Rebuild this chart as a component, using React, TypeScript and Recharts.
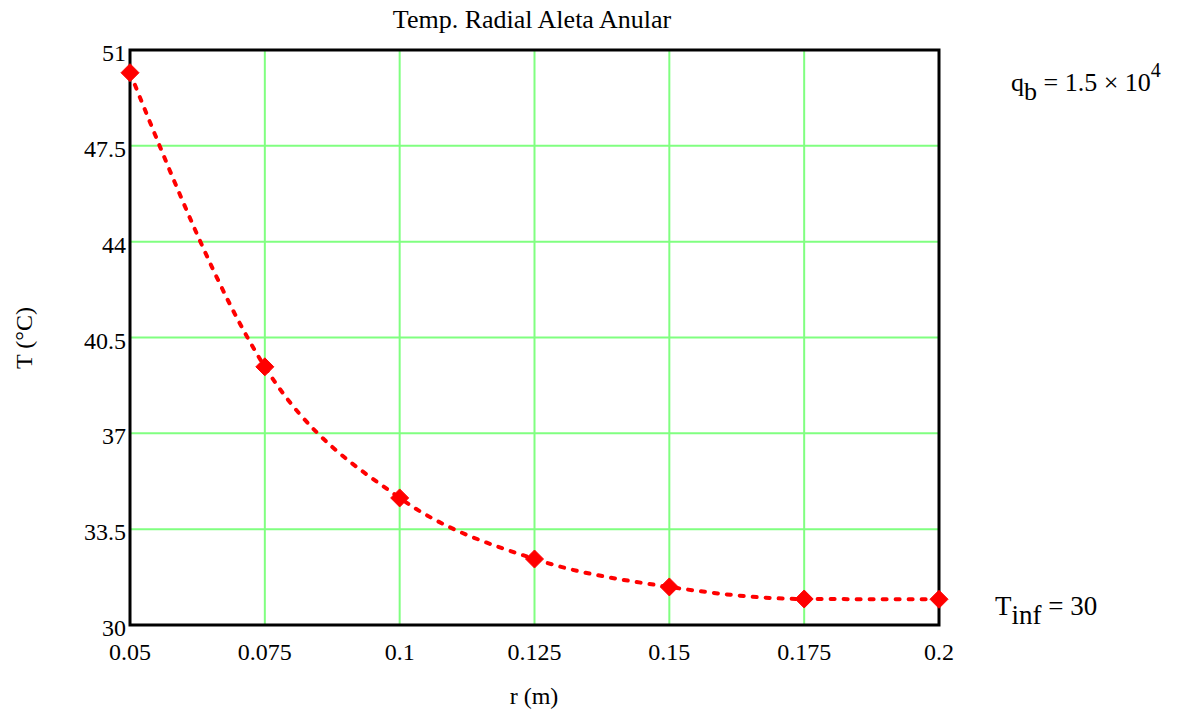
import React from "react";
import { LineChart, Line, XAxis, YAxis, CartesianGrid, ReferenceArea } from "recharts";

const radii = [0.05, 0.075, 0.1, 0.125, 0.15, 0.175, 0.2];
const temps = [50.17, 39.43, 34.64, 32.41, 31.39, 30.95, 30.94];
const xTicks = [0.05, 0.075, 0.1, 0.125, 0.15, 0.175, 0.2];
const yTicks = [30, 33.5, 37, 40.5, 44, 47.5, 51];

const data = radii.map((r, i) => ({ r, T: temps[i] }));

const FONT = "'Liberation Serif', 'Times New Roman', serif";

const Diamond = (props: any) => {
  const { cx, cy } = props;
  if (cx == null || cy == null) return null;
  const s = 9;
  return (
    <polygon
      points={`${cx},${cy - s} ${cx + s},${cy} ${cx},${cy + s} ${cx - s},${cy}`}
      fill="#ff0000"
      stroke="#ff0000"
      strokeWidth={1}
    />
  );
};

const XTick = (props: any) => {
  const { x, y, payload } = props;
  return (
    <text x={x} y={y + 35} textAnchor="middle" fontFamily={FONT} fontSize={24} fill="#000">
      {String(payload.value)}
    </text>
  );
};

const YTick = (props: any) => {
  const { x, y, payload } = props;
  return (
    <text x={x} y={y + 11} textAnchor="end" fontFamily={FONT} fontSize={24} fill="#000">
      {String(payload.value)}
    </text>
  );
};

export default function App() {
  return (
    <div style={{ position: "absolute", left: 0, top: 0, width: 1177, height: 711, background: "#fff", fontFamily: FONT }}>
      <LineChart
        width={1177}
        height={711}
        data={data}
        margin={{ top: 50, right: 238, bottom: 56, left: 70 }}
      >
        <CartesianGrid stroke="#80ff80" strokeWidth={2} horizontalValues={yTicks} verticalValues={xTicks} />
        <XAxis
          dataKey="r"
          type="number"
          domain={[0.05, 0.2]}
          ticks={xTicks}
          height={30}
          axisLine={false}
          tickLine={false}
          tickSize={0}
          tickMargin={0}
          tick={<XTick />}
          interval={0}
        />
        <YAxis
          type="number"
          domain={[30, 51]}
          ticks={yTicks}
          width={60}
          axisLine={false}
          tickLine={false}
          tickSize={0}
          tickMargin={4}
          tick={<YTick />}
          interval={0}
        />
        <ReferenceArea x1={0.05} x2={0.2} y1={30} y2={51} fill="none" stroke="#000" strokeWidth={3} ifOverflow="visible" />
        <Line
          type="monotone"
          dataKey="T"
          stroke="#ff0000"
          strokeWidth={4}
          strokeDasharray="4 9"
          strokeLinecap="round"
          dot={<Diamond />}
          activeDot={false}
          isAnimationActive={false}
        />
      </LineChart>
      <div style={{ position: "absolute", left: 0, width: 1064, top: 5, textAlign: "center", fontSize: 26, lineHeight: "30px", color: "#000", whiteSpace: "nowrap" }}>
        Temp. Radial Aleta Anular
      </div>
      <div style={{ position: "absolute", left: 0, width: 1068, top: 682, textAlign: "center", fontSize: 24, lineHeight: "28px", color: "#000" }}>
        r (m)
      </div>
      <div
        style={{
          position: "absolute",
          left: 24,
          top: 338,
          transform: "translate(-50%, -50%) rotate(-90deg)",
          whiteSpace: "nowrap",
          fontSize: 24,
          lineHeight: "28px",
          color: "#000",
        }}
      >
        T (°C)
      </div>
      <div style={{ position: "absolute", left: 1011, top: 68, fontSize: 26, lineHeight: "30px", color: "#000", whiteSpace: "nowrap" }}>
        q<sub style={{ fontSize: 26, verticalAlign: -9, lineHeight: 0 }}>b</sub> = 1.5 × 10<sup style={{ fontSize: 20, verticalAlign: 14, lineHeight: 0 }}>4</sup>
      </div>
      <div style={{ position: "absolute", left: 995, top: 591, fontSize: 27, lineHeight: "30px", color: "#000", whiteSpace: "nowrap" }}>
        T<sub style={{ fontSize: 27, verticalAlign: -9, lineHeight: 0 }}>inf</sub> = 30
      </div>
    </div>
  );
}
